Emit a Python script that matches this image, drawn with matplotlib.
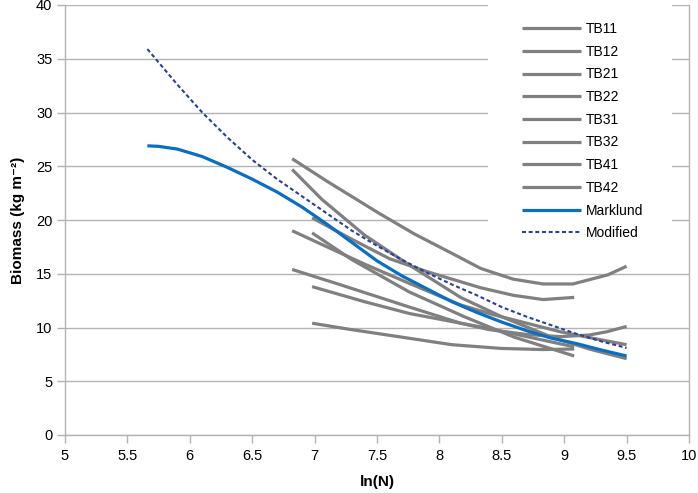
import matplotlib
matplotlib.use("Agg")
import matplotlib.pyplot as plt
from matplotlib.patches import Rectangle

plt.rcParams['font.family'] = ['Liberation Sans', 'DejaVu Sans']

# ---- data ----
tb11_x = [6.82, 7.1, 7.52, 7.8, 8.1, 8.33, 8.59, 8.83, 9.07, 9.35, 9.5]
tb11_y = [25.7, 23.6, 20.6, 18.7, 16.9, 15.5, 14.5, 14.05, 14.05, 14.9, 15.7]

tb12_x = [6.82, 7.06, 7.4, 7.76, 8.17, 8.5, 8.9, 9.2, 9.5]
tb12_y = [24.7, 21.9, 18.6, 15.8, 12.8, 11.0, 9.1, 8.0, 7.1]

tb21_x = [6.98, 7.3, 7.6, 7.9, 8.33, 8.59, 8.83, 9.08]
tb21_y = [20.2, 18.2, 16.4, 15.2, 13.7, 13.0, 12.6, 12.8]

tb22_x = [6.82, 7.1, 7.4, 7.76, 8.17, 8.43, 8.7, 8.97, 9.23, 9.5]
tb22_y = [19.0, 17.5, 15.9, 14.1, 12.1, 11.2, 10.4, 9.6, 9.0, 8.4]

tb31_x = [6.98, 7.3, 7.76, 8.2, 8.6, 9.08]
tb31_y = [18.8, 16.3, 13.3, 11.0, 9.1, 7.35]

tb32_x = [6.82, 7.2, 7.76, 8.17, 8.4, 8.7, 8.97, 9.2, 9.34, 9.5]
tb32_y = [15.4, 14.0, 11.9, 10.4, 9.8, 9.35, 9.15, 9.3, 9.6, 10.1]

tb41_x = [6.98, 7.4, 7.76, 8.4, 8.8, 9.08]
tb41_y = [13.8, 12.4, 11.3, 9.9, 8.9, 8.2]

tb42_x = [6.98, 7.28, 7.7, 8.1, 8.5, 8.83, 9.08]
tb42_y = [10.4, 9.83, 9.1, 8.4, 8.05, 7.95, 8.0]

marklund_x = [5.66, 5.75, 5.9, 6.1, 6.3, 6.5, 6.7, 6.9, 7.1, 7.3, 7.5, 7.7,
              7.9, 8.1, 8.3, 8.5, 8.7, 8.9, 9.1, 9.3, 9.5]
marklund_y = [26.9, 26.85, 26.6, 25.9, 24.9, 23.8, 22.6, 21.2, 19.6, 17.9, 16.2, 14.8,
              13.6, 12.4, 11.4, 10.5, 9.7, 9.0, 8.5, 7.9, 7.35]

modified_x = [5.66, 5.9, 6.1, 6.3, 6.5, 6.7, 6.9, 7.1, 7.3, 7.5, 7.7, 7.9,
              8.1, 8.3, 8.5, 8.7, 8.9, 9.1, 9.3, 9.5]
modified_y = [35.9, 32.6, 30.0, 27.7, 25.6, 23.8, 22.2, 20.6, 19.0, 17.6, 16.3, 15.1,
              14.0, 13.0, 11.9, 11.0, 10.2, 9.4, 8.7, 8.1]

tb_series = [("TB11", tb11_x, tb11_y), ("TB12", tb12_x, tb12_y),
             ("TB21", tb21_x, tb21_y), ("TB22", tb22_x, tb22_y),
             ("TB31", tb31_x, tb31_y), ("TB32", tb32_x, tb32_y),
             ("TB41", tb41_x, tb41_y), ("TB42", tb42_x, tb42_y)]

x_ticks = [5, 5.5, 6, 6.5, 7, 7.5, 8, 8.5, 9, 9.5, 10]
x_tick_labels = ["5", "5.5", "6", "6.5", "7", "7.5", "8", "8.5", "9", "9.5", "10"]
y_ticks = [0, 5, 10, 15, 20, 25, 30, 35, 40]

# ---- figure ----
fig = plt.figure(figsize=(6.98, 4.93), dpi=100)
ax = fig.add_axes([65/698, 1-435/493, 624/698, 430/493])

grid_c = "#b3b3b3"
gray = "#808080"
blue = "#0a6fc2"
navy = "#2b3f9c"

for name, xs, ys in tb_series:
    ax.plot(xs, ys, color=gray, lw=2.3, label=name, solid_capstyle='butt', zorder=3)
ax.plot(marklund_x, marklund_y, color=blue, lw=2.3, label="Marklund", zorder=4,
        solid_capstyle='butt')
ax.plot(modified_x, modified_y, color=navy, lw=1.5, ls=(0, (1.9, 1.3)), label="Modified",
        zorder=5)

ax.set_xlim(5, 10)
ax.set_ylim(0, 40)
ax.set_xticks(x_ticks)
ax.set_xticklabels(x_tick_labels)
ax.set_yticks(y_ticks)
ax.yaxis.grid(True, color=grid_c, lw=1)
ax.set_axisbelow(True)
for s in ax.spines.values():
    s.set_color(grid_c)
    s.set_linewidth(1)
ax.spines['top'].set_visible(False)
ax.tick_params(axis='both', colors=grid_c, labelcolor='black', labelsize=10.5,
               length=6, width=1, direction='out')
ax.tick_params(axis='x', pad=4)
ax.tick_params(axis='y', pad=3)

ax.set_xlabel("ln(N)", fontsize=11, fontweight='bold', labelpad=9)
ax.set_ylabel("Biomass (kg m\u207b\u00b2)", fontsize=11, fontweight='bold', labelpad=8)

# white legend background covering grid lines
ax.add_patch(Rectangle((0.678, 0.442), 0.295, 0.56, transform=ax.transAxes,
                       facecolor='white', edgecolor='none', zorder=1.5, clip_on=False))

leg = ax.legend(loc='upper left', bbox_to_anchor=((521.7-65)/624, (435-22)/430),
                frameon=False, fontsize=10, handlelength=4.3, handletextpad=0.3,
                labelspacing=0.626, borderaxespad=0, borderpad=0)

fig.savefig("out.png", dpi=100)
